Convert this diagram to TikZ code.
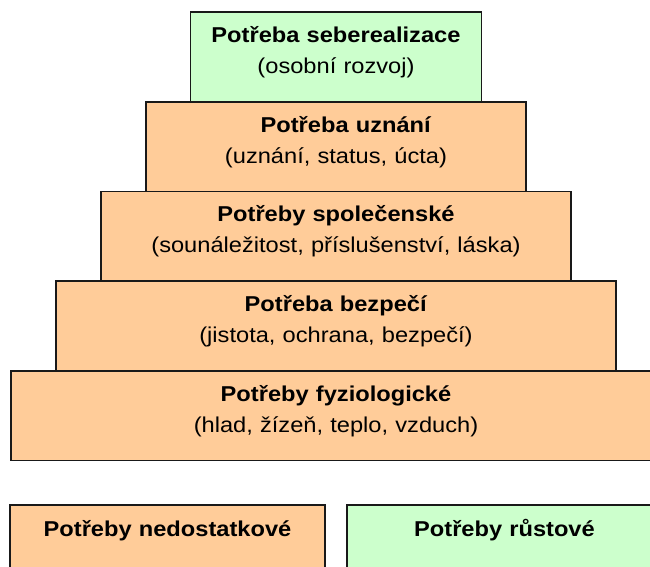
\documentclass[tikz,border=0pt]{standalone}
\usepackage{fontspec}
\setmainfont[FakeStretch=1.1]{Liberation Sans}
\usetikzlibrary{positioning}

\definecolor{peach}{RGB}{255,204,153}
\definecolor{growth}{RGB}{204,255,204}

\tikzset{
	level/.style={draw=black!90, line width=1.6pt, fill=peach, align=center,
		inner xsep=0pt, inner ysep=0pt, outer sep=0pt,
		font=\fontsize{21.5}{31}\selectfont},
	tier/.style={level, text width=#1, text height=30.5pt, text depth=59.2pt},
	need/.style={level, text width=315pt, text height=31.7pt, text depth=48pt}
}

\begin{document}
\begin{tikzpicture}[x=1pt, y=1pt, node distance=0pt]
		
		\useasboundingbox (0,0) rectangle (650,566);
		\clip (0,0) rectangle (650,566);
		
		% pyramid, bottom up
		\node (fyz) [tier=650pt] at (336,150.3) {\textbf{Potřeby fyziologické}\\(hlad, žízeň, teplo, vzduch)};
		\node (bez) [tier=560pt, above=of fyz] {\textbf{Potřeba bezpečí}\\(jistota, ochrana, bezpečí)};
		\node (spol) [tier=470pt, above=of bez] {\textbf{Potřeby společenské}\\(sounáležitost, příslušenství, láska)};
		\node (uzn) [tier=380pt, above=of spol] {\hspace*{20pt}\textbf{Potřeba uznání}\\(uznání, status, úcta)};
		\node (seb) [tier=291pt, fill=growth, above=of uzn] {\textbf{Potřeba seberealizace}\\(osobní rozvoj)};
		
		% legend
		\node (nedo) [need, below right=44.3pt and -1pt of fyz.south west] {\textbf{Potřeby nedostatkové}};
		\node (rust) [need, fill=growth, right=22pt of nedo] {\textbf{Potřeby růstové}};
		
\end{tikzpicture}
\end{document}
